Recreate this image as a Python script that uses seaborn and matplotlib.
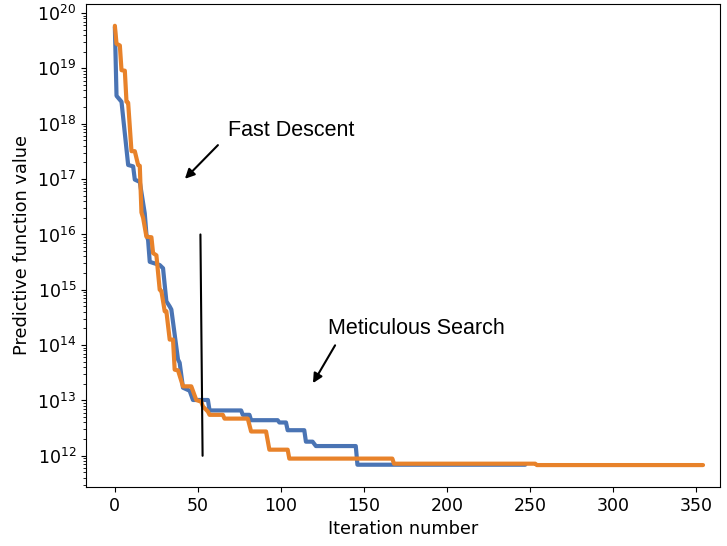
import numpy as np
import pandas as pd
import matplotlib
matplotlib.use('Agg')
import matplotlib.pyplot as plt
import seaborn as sns

# Style close to plain matplotlib defaults
sns.set_style("ticks")
plt.rcParams['font.family'] = ['DejaVu Sans']
plt.rcParams['axes.edgecolor'] = 'black'
plt.rcParams['xtick.color'] = 'black'
plt.rcParams['ytick.color'] = 'black'
plt.rcParams['text.color'] = 'black'
plt.rcParams['axes.labelcolor'] = 'black'

# Running best value per iteration (breakpoints)
blue_iter = [0, 1, 4, 8, 11, 12, 15, 18, 19, 20, 21, 27, 29, 31, 33, 34, 38, 39,
             41, 45, 47, 56, 57, 76, 77, 81, 82, 98, 99, 103, 104, 114, 115, 119,
             121, 145, 146, 247]
blue_val = [5.6e19, 3.2e18, 2.5e18, 1.8e17, 1.7e17, 9.8e16, 8.9e16, 2.4e16, 1.0e16,
            7.9e15, 3.2e15, 2.8e15, 2.45e15, 6.2e14, 5.0e14, 4.4e14, 5.5e13, 4.8e13,
            1.7e13, 1.5e13, 1.02e13, 1.02e13, 6.6e12, 6.6e12, 5.5e12, 5.5e12, 4.4e12,
            4.4e12, 4.0e12, 4.0e12, 2.9e12, 2.9e12, 1.8e12, 1.8e12,
            1.5e12, 1.5e12, 6.9e11, 6.9e11]

orange_iter = [0, 1, 3, 4, 6, 7, 8, 10, 12, 14, 15, 16, 17, 19, 22, 23, 25, 27, 28,
               30, 31, 33, 35, 36, 38, 41, 46, 49, 52, 53, 56, 57, 65, 66, 80, 82,
               91, 93, 104, 105, 167, 168, 253, 254, 354]
orange_val = [5.9e19, 2.8e19, 2.6e19, 9.3e18, 9.1e18, 2.5e18, 2.4e18, 3.2e17, 3.2e17,
              1.8e17, 1.74e17, 2.5e16, 2.0e16, 9.1e15, 8.9e15, 4.6e15, 4.2e15, 1.0e15,
              9.5e14, 4.1e14, 4.1e14, 1.26e14, 1.26e14, 3.6e13, 3.5e13, 1.8e13, 1.8e13,
              1.02e13, 9.5e12, 7.8e12, 6.3e12, 5.5e12, 5.5e12, 4.7e12, 4.7e12, 2.75e12,
              2.75e12, 1.29e12, 1.29e12, 8.9e11, 8.9e11, 7.2e11, 7.2e11, 6.8e11, 6.8e11]

blue_df = pd.DataFrame({'iteration': blue_iter, 'value': blue_val})
orange_df = pd.DataFrame({'iteration': orange_iter, 'value': orange_val})

fig, ax = plt.subplots(figsize=(7.27, 5.46), dpi=100)
fig.subplots_adjust(left=0.118, right=0.991, bottom=0.108, top=0.993)

sns.lineplot(data=blue_df, x='iteration', y='value', color='#4a74b4', lw=3, ax=ax)
sns.lineplot(data=orange_df, x='iteration', y='value', color='#e8822a', lw=3, ax=ax)
ax.set_yscale('log')
ax.set_xlim(-17.5, 364.5)

# divider between the two phases
ax.plot([51.5, 52.8], [1e16, 1e12], color='black', lw=1.5)

ann_font = ['Liberation Sans', 'DejaVu Sans']
ax.text(68, 10**17.78, 'Fast Descent', fontsize=15.5, family=ann_font, va='baseline')
ax.annotate('', xy=(41, 10**16.97), xytext=(63.2, 10**17.65),
            arrowprops=dict(arrowstyle='-|>', color='black', lw=1.5, mutation_scale=14))
ax.text(128.2, 10**14.21, 'Meticulous Search', fontsize=15.5, family=ann_font, va='baseline')
ax.annotate('', xy=(118.4, 10**13.27), xytext=(133.4, 10**14.04),
            arrowprops=dict(arrowstyle='-|>', color='black', lw=1.5, mutation_scale=14))

ax.set_xlabel('Iteration number', fontsize=12.8)
ax.set_ylabel('Predictive function value', fontsize=12.8)
ax.tick_params(labelsize=12.5)
ax.set_xticks([0, 50, 100, 150, 200, 250, 300, 350])

plt.savefig('out.png', dpi=100)
plt.close()
